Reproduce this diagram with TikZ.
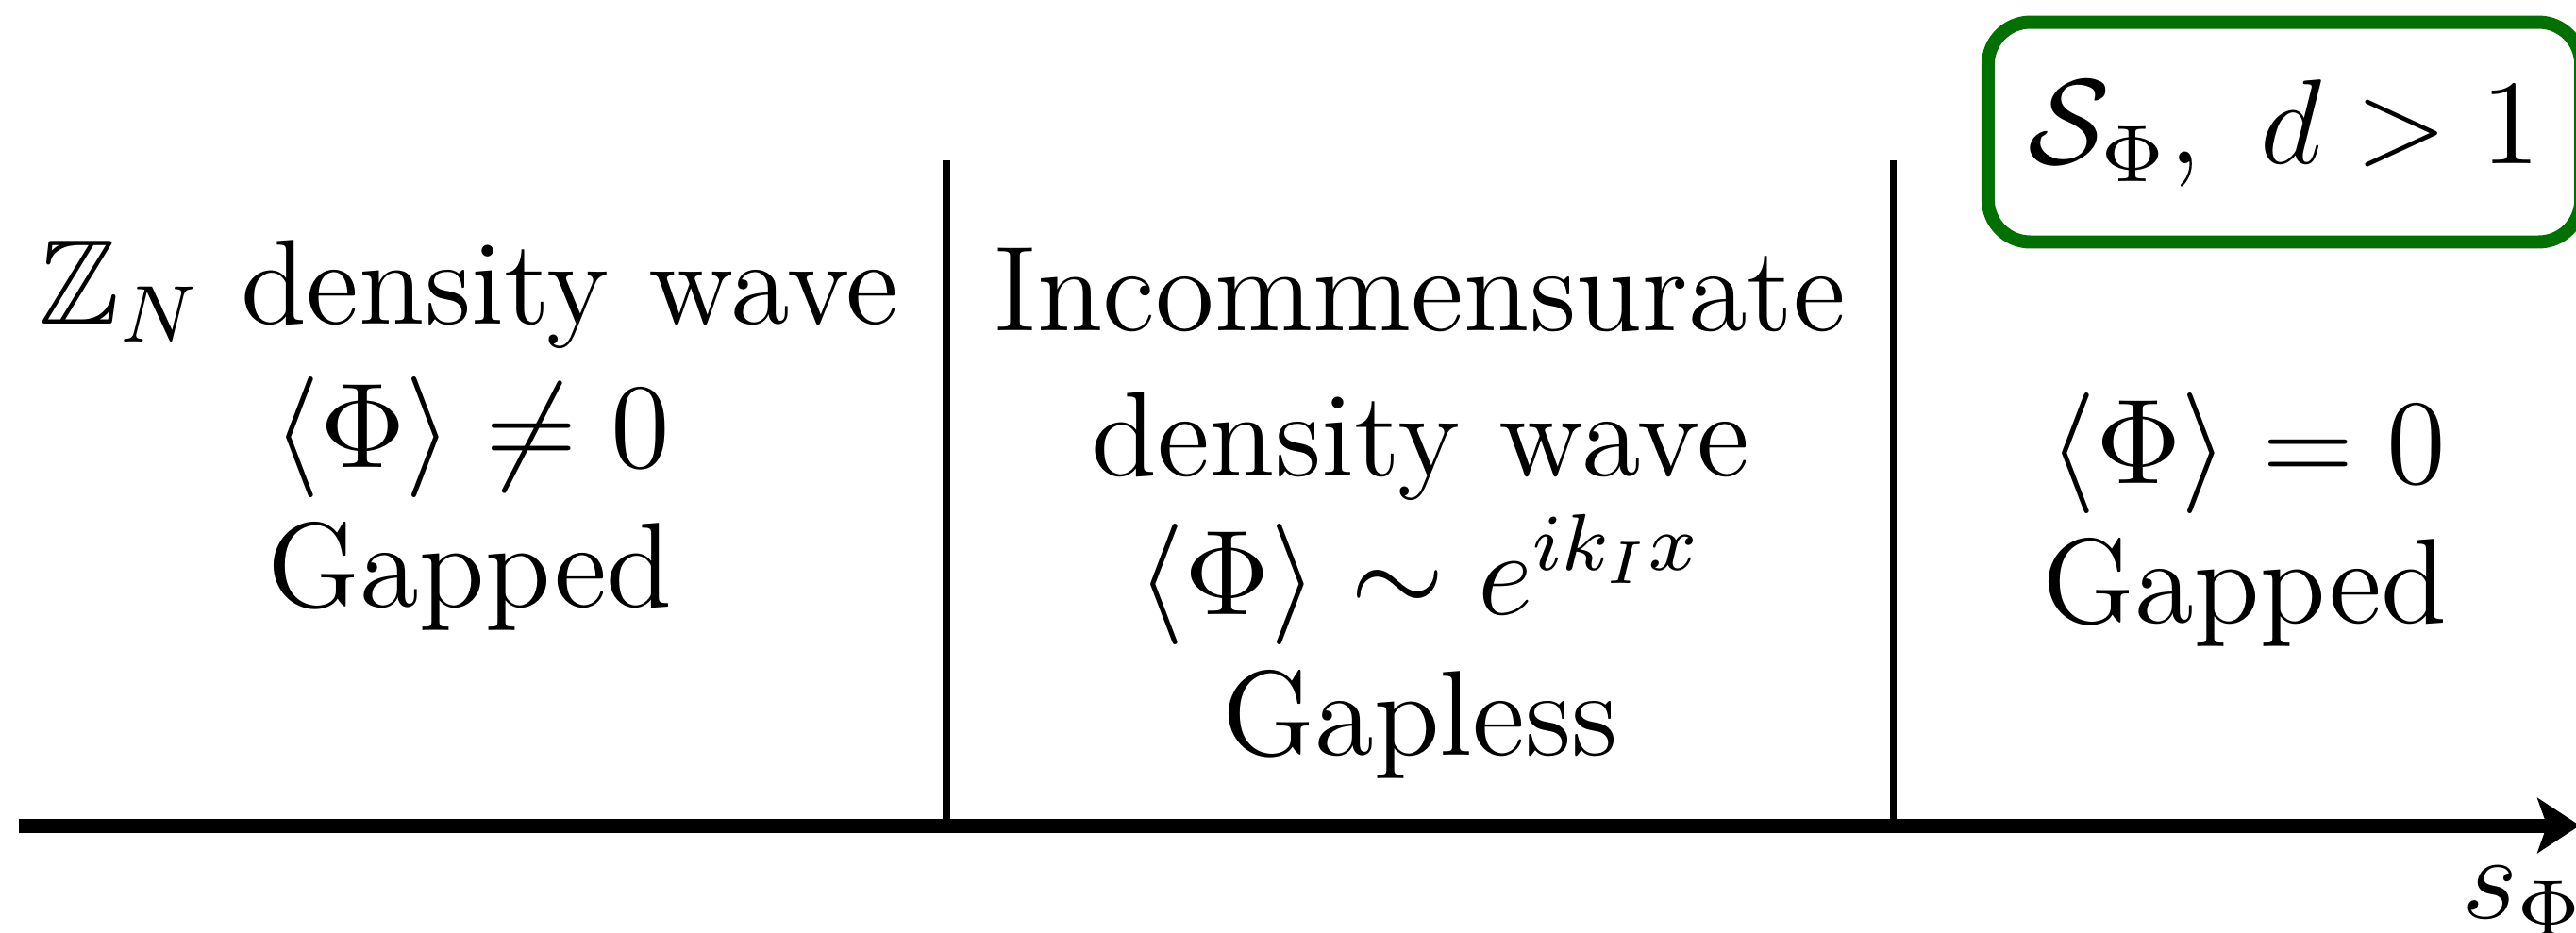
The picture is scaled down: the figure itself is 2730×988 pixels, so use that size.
\documentclass[tikz,border=0pt]{standalone}
\usepackage{amsmath,amssymb}
\usetikzlibrary{arrows.meta}
\definecolor{boxgreen}{RGB}{0,112,0}
\begin{document}
\begin{tikzpicture}[x=0.09375pt,y=-0.09375pt,
  txt/.style={anchor=base, inner sep=0pt, text=black, font=\fontsize{12}{14.4}\selectfont},
  axisline/.style={line width=1.41pt, -{Stealth[length=4.2pt,width=5.44pt,inset=0.94pt]}},
  divider/.style={line width=0.66pt},
  greenbox/.style={draw=boxgreen, line width=1.31pt, rounded corners=4.2pt, inner sep=0pt}]
\useasboundingbox (0,0) rectangle (2730,988);
\clip (0,0) rectangle (2730,988);
% axis
\coordinate (axstart) at (20,875);
\coordinate (axend) at (2734,875);
\draw[axisline] (axstart) -- (axend);
% dividers
\coordinate (d1top) at (1003,170);
\coordinate (d1bot) at (1003,875);
\coordinate (d2top) at (2006,170);
\coordinate (d2bot) at (2006,875);
\draw[divider] (d1top) -- (d1bot);
\draw[divider] (d2top) -- (d2bot);
% left region
\node[txt] (l1) at (497,343) {$\mathbb{Z}_N$ density wave};
\node[txt] (l2) at (500,495) {$\langle\Phi\rangle\neq 0$};
\node[txt] (l3) at (498,643) {Gapped};
% middle region
\node[txt] (m1) at (1505,350) {Incommensurate};
\node[txt] (m2) at (1505,504) {density wave};
\node[txt] (m3) at (1505,651) {$\langle\Phi\rangle\sim e^{ik_Ix}$};
\node[txt] (m4) at (1505,800) {Gapless};
% right region
\node[txt] (r1) at (2382,512) {$\langle\Phi\rangle=0$};
\node[txt] (r2) at (2379,660) {Gapped};
% green box
\node[greenbox, minimum width=58.9pt, minimum height=21.84pt] (box) at (2421,140) {};
\node[txt] (boxlabel) at (2421,173) {$\mathcal{S}_{\Phi},~d>1$};
% axis label
\node[txt, anchor=base west] (slabel) at (2607,973) {$s_{\Phi}$};
\end{tikzpicture}
\end{document}
